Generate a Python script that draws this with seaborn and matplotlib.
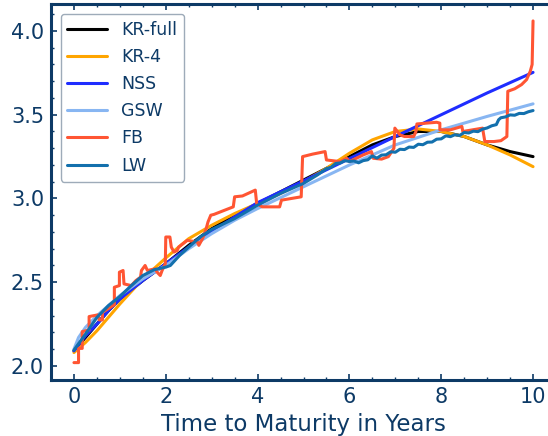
import matplotlib
matplotlib.use("Agg")
import matplotlib.pyplot as plt
import seaborn as sns
from matplotlib.ticker import MultipleLocator

# ---------------- data ----------------
kr_full_t = [0, 0.25, 0.5, 0.75, 1.0, 1.5, 2.0, 2.5, 3.0, 3.5, 4.0, 4.5, 5.0, 5.5, 6.0,
             6.5, 7.0, 7.5, 8.0, 8.5, 9.0, 9.5, 10.0]
kr_full_y = [2.09, 2.17, 2.25, 2.33, 2.40, 2.51, 2.61, 2.72, 2.82, 2.90, 2.97, 3.04, 3.11,
             3.18, 3.25, 3.32, 3.37, 3.40, 3.40, 3.37, 3.32, 3.28, 3.25]

kr4_t = [0, 0.25, 0.5, 0.75, 1.0, 1.5, 2.0, 2.5, 3.0, 3.5, 4.0, 4.5, 5.0, 5.5, 6.0, 6.5,
         7.0, 7.5, 8.0, 8.5, 9.0, 9.5, 10.0]
kr4_y = [2.08, 2.14, 2.21, 2.29, 2.37, 2.52, 2.645, 2.76, 2.84, 2.91, 2.97, 3.03, 3.10,
         3.18, 3.27, 3.35, 3.40, 3.415, 3.40, 3.37, 3.32, 3.26, 3.19]

nss_t = [0, 0.25, 0.5, 0.75, 1.0, 1.5, 2.0, 2.5, 3.0, 3.5, 4.0, 5.0, 6.0, 7.0, 8.0, 9.0, 10.0]
nss_y = [2.09, 2.18, 2.25, 2.33, 2.40, 2.51, 2.61, 2.71, 2.80, 2.89, 2.975, 3.105, 3.238,
         3.37, 3.50, 3.63, 3.753]

gsw_t = [0, 0.1, 0.25, 0.5, 0.75, 1.0, 1.5, 2.0, 2.5, 3.0, 3.5, 4.0, 5.0, 6.0, 7.0, 8.0,
         9.0, 10.0]
gsw_y = [2.10, 2.17, 2.23, 2.30, 2.36, 2.42, 2.52, 2.60, 2.70, 2.79, 2.87, 2.94, 3.07,
         3.20, 3.32, 3.41, 3.49, 3.565]

fb_t = [0, 0.1, 0.1, 0.18, 0.18, 0.33, 0.33, 0.52, 0.55, 0.62, 0.62, 0.88, 0.88, 0.99,
        0.99, 1.07, 1.09, 1.25, 1.35, 1.45, 1.47, 1.55, 1.6, 1.77, 1.81, 1.88, 1.92, 1.99,
        2.0, 2.09, 2.12, 2.18, 2.25, 2.28, 2.47, 2.69, 2.72, 2.80, 2.87, 2.92, 2.98, 3.05,
        3.47, 3.5, 3.67, 3.95, 3.98, 4.1, 4.48, 4.52, 4.95, 4.98, 5.2, 5.47, 5.5, 5.8, 5.94,
        6.0, 6.3, 6.48, 6.52, 6.7, 6.85, 6.97, 6.99, 7.1, 7.2, 7.4, 7.45, 7.47, 7.9, 7.97,
        7.97, 8.2, 8.45, 8.47, 8.9, 8.95, 9.15, 9.3, 9.43, 9.45, 9.6, 9.75, 9.86, 9.94,
        9.98, 10.0]
fb_y = [2.02, 2.02, 2.105, 2.105, 2.205, 2.215, 2.295, 2.305, 2.275, 2.275, 2.32, 2.365,
        2.47, 2.48, 2.56, 2.57, 2.49, 2.48, 2.51, 2.53, 2.57, 2.60, 2.57, 2.58, 2.56, 2.54,
        2.57, 2.61, 2.77, 2.77, 2.71, 2.68, 2.69, 2.71, 2.75, 2.74, 2.72, 2.76, 2.81, 2.86,
        2.90, 2.905, 2.95, 3.01, 3.015, 3.05, 2.97, 2.95, 2.95, 2.99, 3.01, 3.25, 3.265,
        3.28, 3.23, 3.22, 3.24, 3.22, 3.26, 3.28, 3.24, 3.235, 3.25, 3.30, 3.42, 3.38,
        3.37, 3.37, 3.40, 3.445, 3.455, 3.45, 3.41, 3.41, 3.43, 3.40, 3.42, 3.34, 3.34,
        3.345, 3.37, 3.64, 3.655, 3.68, 3.71, 3.76, 3.80, 4.06]

lw_t = [0, 0.25, 0.5, 0.75, 1.0, 1.25, 1.5, 1.75, 2.0, 2.1, 2.3, 2.5, 2.75, 3.0, 3.5, 4.0,
        4.5, 5.0, 5.3, 5.5, 5.6, 5.7, 5.8, 5.9, 6.0, 6.1, 6.2, 6.3, 6.4, 6.5, 6.6, 6.7, 6.8,
        6.9, 7.0, 7.1, 7.2, 7.3, 7.4, 7.5, 7.6, 7.7, 7.8, 7.9, 8.0, 8.1, 8.2, 8.3, 8.4, 8.5,
        8.6, 8.7, 8.8, 8.9, 9.0, 9.1, 9.2, 9.25, 9.3, 9.4, 9.5, 9.6, 9.7, 9.8, 9.9, 10.0]
lw_y = [2.095, 2.19, 2.29, 2.36, 2.415, 2.48, 2.54, 2.575, 2.59, 2.60, 2.66, 2.71, 2.77,
        2.815, 2.88, 2.96, 3.03, 3.09, 3.14, 3.178, 3.186, 3.209, 3.212, 3.226, 3.221,
        3.224, 3.213, 3.226, 3.231, 3.254, 3.241, 3.259, 3.261, 3.279, 3.276, 3.294, 3.292,
        3.307, 3.305, 3.324, 3.321, 3.336, 3.337, 3.354, 3.356, 3.374, 3.369, 3.381, 3.376,
        3.394, 3.391, 3.402, 3.399, 3.414, 3.421, 3.434, 3.441, 3.47, 3.482, 3.487, 3.499,
        3.497, 3.508, 3.507, 3.518, 3.525]

series = [
    ("KR-full", kr_full_t, kr_full_y, "black"),
    ("KR-4", kr4_t, kr4_y, "#ffa500"),
    ("NSS", nss_t, nss_y, "#1f2dff"),
    ("GSW", gsw_t, gsw_y, "#88b6f2"),
    ("FB", fb_t, fb_y, "#ff5533"),
    ("LW", lw_t, lw_y, "#1370ad"),
]

x_label = "Time to Maturity in Years"

# ---------------- style ----------------
sns.set_theme(style="white")
navy = "#0d3a66"
plt.rcParams["font.family"] = ["DejaVu Sans"]
plt.rcParams.update({
    "text.color": navy,
    "axes.labelcolor": navy,
    "xtick.color": navy,
    "ytick.color": navy,
    "axes.edgecolor": navy,
})

fig = plt.figure(figsize=(5.48, 4.36), dpi=100)
ax = fig.add_axes([51 / 548, (436 - 380.2) / 436, 505 / 548, 376 / 436])

for name, t, y, c in series:
    sns.lineplot(x=t, y=y, ax=ax, color=c, lw=2.2, label=name,
                 estimator=None, sort=False)

ax.set_xlim(-0.5, 10.5)
ax.set_ylim(1.915, 4.16)
ax.xaxis.set_major_locator(MultipleLocator(2))
ax.xaxis.set_minor_locator(MultipleLocator(0.5))
ax.yaxis.set_major_locator(MultipleLocator(0.5))
ax.yaxis.set_minor_locator(MultipleLocator(0.1))
ax.tick_params(which="both", direction="in", bottom=True, left=True, top=True,
               right=True, colors=navy, labelsize=15)
ax.tick_params(which="major", length=4, width=1.2, pad=5)
ax.tick_params(which="minor", length=2.3, width=1.0)
for s in ax.spines.values():
    s.set_linewidth(2.2)
    s.set_color(navy)

ax.set_xlabel(x_label, fontsize=16.5, color=navy, labelpad=4)
ax.set_ylabel("")

leg = ax.legend(loc="upper left", fontsize=12.5, handlelength=2.3, labelspacing=0.53,
                frameon=True, fancybox=True, framealpha=1, borderaxespad=0.55)
leg.get_frame().set_edgecolor("#9eabb9")
leg.get_frame().set_linewidth(1.0)
for txt in leg.get_texts():
    txt.set_color(navy)

fig.savefig("out.png", dpi=100)
